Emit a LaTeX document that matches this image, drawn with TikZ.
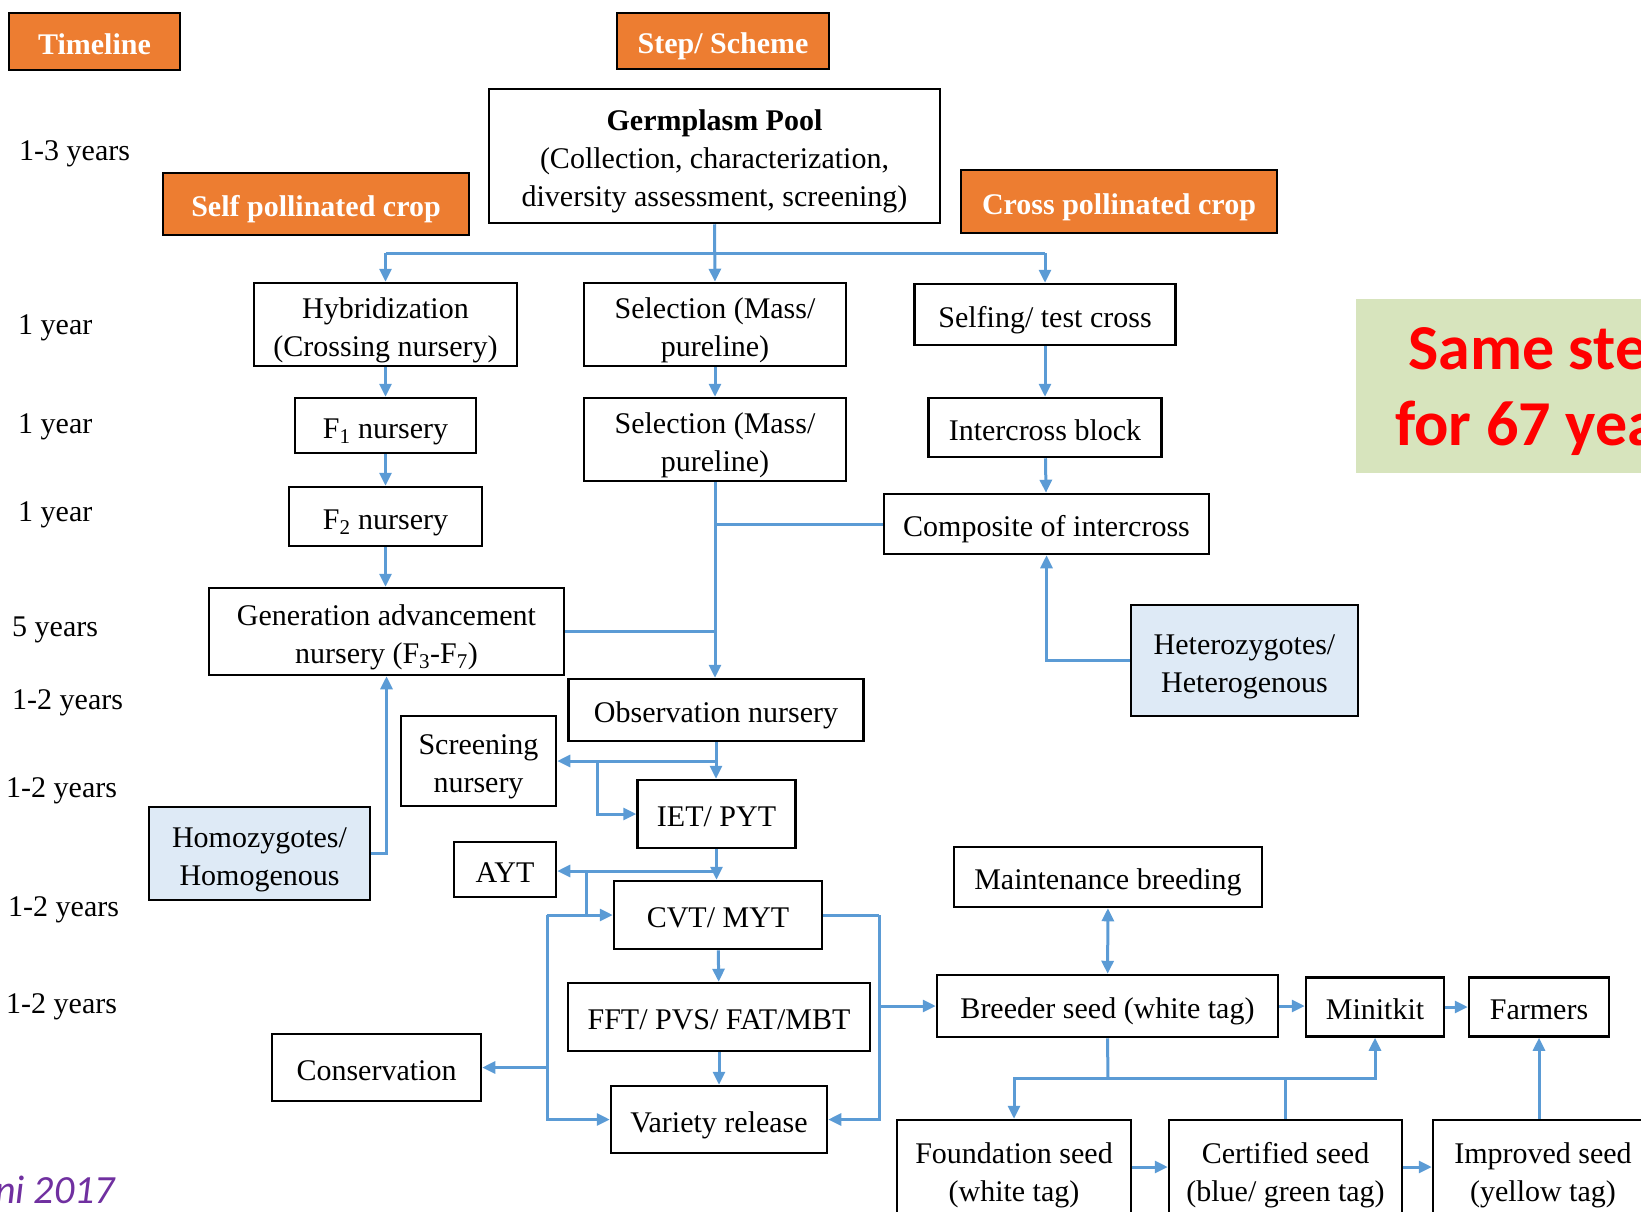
\documentclass[tikz,border=0pt]{standalone}
\usepackage{fontspec}
\setmainfont{Liberation Serif}
\newfontfamily\calibri{Carlito}
\usetikzlibrary{arrows.meta}
\definecolor{flowblue}{HTML}{5B9BD5}
\definecolor{headorange}{HTML}{ED7D31}
\definecolor{paleblue}{HTML}{DEEAF6}
\definecolor{palegreen}{HTML}{D7E4BD}
\definecolor{notepurple}{HTML}{7030A0}
% centred lines of a box, set a little low
\newcommand{\stack}[1]{\raisebox{-5pt}[\height][\depth]{\begin{tabular}{@{}c@{}}#1\end{tabular}}}
\tikzset{
  box/.style={draw, line width=2.5pt, fill=white, inner sep=0pt,
    font=\fontsize{30}{38}\selectfont},
  head/.style={box, fill=headorange, text=white, font=\fontsize{30}{38}\selectfont\bfseries},
  zygo/.style={box, fill=paleblue},
  yearlbl/.style={anchor=base west, inner sep=0pt, font=\fontsize{30}{38}\selectfont},
  link/.style={draw=flowblue, line width=3pt},
  flow/.style={link, -{Triangle[length=13pt,width=12pt]}},
  twoway/.style={link, {Triangle[length=13pt,width=12pt]}-{Triangle[length=13pt,width=12pt]}},
}
\begin{document}
\begin{tikzpicture}[x=1pt,y=-1pt]
\useasboundingbox (0,0) rectangle (1641,1211);
\clip (0,0) rectangle (1641,1211);

% headings
\node[head, minimum width=171pt, minimum height=57pt] (timeline) at (94.5,41.5) {\stack{Timeline}};
\node[head, minimum width=212pt, minimum height=56pt] (scheme) at (723,41) {\stack{Step/ Scheme}};
\node[head, minimum width=306pt, minimum height=62pt] (selfcrop) at (316,204) {\stack{Self pollinated crop}};
\node[head, minimum width=316pt, minimum height=63pt] (crosscrop) at (1119,201.5) {\stack{Cross pollinated crop}};

% timeline
\node[yearlbl] (t1) at (19,160) {1-3 years};
\node[yearlbl] (t2) at (18,334) {1 year};
\node[yearlbl] (t3) at (18,433) {1 year};
\node[yearlbl] (t4) at (18,521) {1 year};
\node[yearlbl] (t5) at (12,636) {5 years};
\node[yearlbl] (t6) at (12,709) {1-2 years};
\node[yearlbl] (t7) at (6,797) {1-2 years};
\node[yearlbl] (t8) at (8,916) {1-2 years};
\node[yearlbl] (t9) at (6,1013) {1-2 years};

% steps
\node[box, minimum width=451pt, minimum height=134pt] (germ) at (714.5,156)
  {\stack{\bfseries Germplasm Pool\\(Collection, characterization,\\diversity assessment, screening)}};
\node[box, minimum width=263pt, minimum height=83pt] (hybrid) at (385.5,324.5) {\stack{Hybridization\\(Crossing nursery)}};
\node[box, minimum width=262pt, minimum height=83pt] (sel1) at (715,324.5) {\stack{Selection (Mass/\\pureline)}};
\node[box, minimum width=261pt, minimum height=61pt] (selfing) at (1045,314.5) {\stack{Selfing/ test cross}};
\node[box, minimum width=181pt, minimum height=55pt] (f1) at (385.5,425.5) {\stack{F\textsubscript{1} nursery}};
\node[box, minimum width=262pt, minimum height=83pt] (sel2) at (715,439.5) {\stack{Selection (Mass/\\pureline)}};
\node[box, minimum width=233pt, minimum height=59pt] (intercross) at (1045,427.5) {\stack{Intercross block}};
\node[box, minimum width=193pt, minimum height=59pt] (f2) at (385.5,516.5) {\stack{F\textsubscript{2} nursery}};
\node[box, minimum width=325pt, minimum height=60pt] (composite) at (1046.5,524) {\stack{Composite of intercross}};
\node[box, minimum width=355pt, minimum height=87pt] (genadv) at (386.5,631.5)
  {\stack{Generation advancement\\nursery (F\textsubscript{3}-F\textsubscript{7})}};
\node[zygo, minimum width=227pt, minimum height=111pt] (hetero) at (1244.5,660.5) {\stack{Heterozygotes/\\Heterogenous}};
\node[box, minimum width=295pt, minimum height=62pt] (obs) at (716,710) {\stack{Observation nursery}};
\node[box, minimum width=155pt, minimum height=90pt] (screen) at (478.5,761) {\stack{Screening\\nursery}};
\node[box, minimum width=158pt, minimum height=68pt] (iet) at (716.5,814) {\stack{IET/ PYT}};
\node[zygo, minimum width=221pt, minimum height=93pt] (homo) at (259.5,853.5) {\stack{Homozygotes/\\Homogenous}};
\node[box, minimum width=102pt, minimum height=55pt] (ayt) at (505,869.5) {\stack{AYT}};
\node[box, minimum width=208pt, minimum height=68pt] (cvt) at (718,915) {\stack{CVT/ MYT}};
\node[box, minimum width=308pt, minimum height=60pt] (maint) at (1108,877) {\stack{Maintenance breeding}};
\node[box, minimum width=302pt, minimum height=68pt] (fft) at (719,1017) {\stack{FFT/ PVS/ FAT/MBT}};
\node[box, minimum width=341pt, minimum height=62pt] (breeder) at (1107.5,1006) {\stack{Breeder seed (white tag)}};
\node[box, minimum width=138pt, minimum height=59pt] (minikit) at (1375,1007) {\stack{Minitkit}};
\node[box, minimum width=140pt, minimum height=59pt] (farmers) at (1539,1007) {\stack{Farmers}};
\node[box, minimum width=209pt, minimum height=67pt] (conserv) at (376.5,1067.5) {\stack{Conservation}};
\node[box, minimum width=216pt, minimum height=67pt] (variety) at (719,1119.5) {\stack{Variety release}};
\node[box, minimum width=234pt, minimum height=100pt] (found) at (1014,1170) {\stack{Foundation seed\\(white tag)}};
\node[box, minimum width=233pt, minimum height=100pt] (certified) at (1285.5,1170) {\stack{Certified seed\\(blue/ green tag)}};
\node[box, minimum width=220pt, minimum height=100pt] (improved) at (1543,1170) {\stack{Improved seed\\(yellow tag)}};

% note and source
\fill[palegreen] (1356,299) rectangle (1645,473);
\node[anchor=base west, inner sep=0pt, text=red, font=\calibri\bfseries\fontsize{64}{76}\selectfont] (same) at (1408,369) {Same ste};
\node[anchor=base west, inner sep=0pt, text=red, font=\calibri\bfseries\fontsize{64}{76}\selectfont] (years) at (1395,445) {for 67 yea};
\node[anchor=base west, inner sep=0pt, text=notepurple, font=\calibri\itshape\fontsize{40}{46}\selectfont] (cite) at (-5,1203) {ni 2017};

% connectors
\coordinate (split) at (715,253);
\draw[link] (hybrid.north |- split) -- (selfing.north |- split);
\draw[flow] (germ.south) -- (sel1.north);
\draw[flow] (hybrid.north |- split) -- (hybrid.north);
\draw[flow] (selfing.north |- split) -- (selfing.north);
\draw[flow] (hybrid) -- (f1);
\draw[flow] (f1) -- (f2);
\draw[flow] (f2.south) -- (f2.south |- genadv.north);
\draw[flow] (sel1) -- (sel2);
\draw[flow] (sel2.south) -- (sel2.south |- obs.north);
\draw[link] (genadv.east) -- (genadv.east -| sel2.south);
\draw[link] (composite.west) -- (composite.west -| sel2.south);
\draw[flow] (selfing) -- (intercross);
\draw[flow] (intercross) -- (composite);
\draw[flow] (hetero.west) -| (composite.south);
\draw[flow] (homo.east) -| (genadv.south);

\coordinate (obsfork) at (716,761);
\coordinate (ietfork) at (597,761);
\draw[flow] (obs.south) -- (obs.south |- iet.north);
\draw[flow] (obsfork) -- (obsfork -| screen.east);
\draw[flow] (ietfork) |- (iet.west);

\coordinate (cvtfork) at (717,871);
\coordinate (aytfork) at (586,871);
\draw[flow] (iet.south) -- (iet.south |- cvt.north);
\draw[flow] (cvtfork) -- (cvtfork -| ayt.east);
\draw[flow] (aytfork) |- (cvt.west);

\coordinate (leftbus) at (547,915);
\draw[link] (leftbus) -- (aytfork |- cvt.west);
\draw[flow] (leftbus) |- (variety.west);
\draw[flow] (leftbus |- conserv.east) -- (conserv.east);
\draw[flow] (cvt) -- (fft);
\draw[flow] (fft) -- (variety);

\coordinate (rightbus) at (879,915);
\draw[link] (cvt.east) -- (rightbus);
\draw[flow] (rightbus) |- (variety.east);
\draw[flow] (rightbus |- breeder.west) -- (breeder.west);

\draw[twoway] (maint) -- (breeder);
\draw[flow] (breeder.east) -- (breeder.east -| minikit.west);
\draw[flow] (minikit) -- (farmers);

\coordinate (seedbus) at (1108,1078);
\draw[link] (breeder.south) -- (seedbus);
\draw[flow] (seedbus) -| (found.north);
\draw[flow] (seedbus) -| (minikit.south);
\draw[link] (certified.north) -- (certified.north |- seedbus);
\draw[flow] (found.east |- 0,1167) -- (certified.west |- 0,1167);
\draw[flow] (certified.east |- 0,1167) -- (improved.west |- 0,1167);
\draw[flow] (farmers.south |- improved.north) -- (farmers.south);
\end{tikzpicture}
\end{document}
